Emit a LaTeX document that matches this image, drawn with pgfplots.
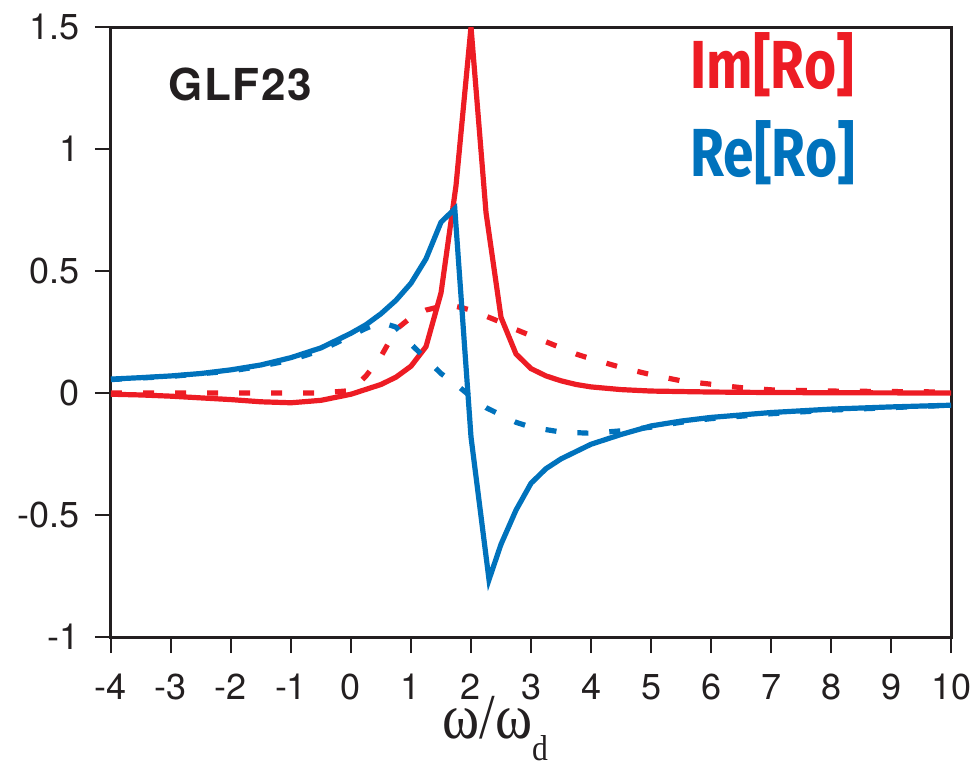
\documentclass[border=0pt]{standalone}
\usepackage{fontspec}
\setmainfont{TeX Gyre Heros}
\newfontfamily\legendfont{Fira Sans}[FakeStretch=0.81]
\newfontfamily\greekfont{Liberation Serif}[FakeStretch=0.88]
\usepackage{pgfplots}
\pgfplotsset{compat=1.18}

\definecolor{imred}{RGB}{237,28,36}
\definecolor{reblue}{RGB}{0,114,188}
\definecolor{ink}{RGB}{35,31,32}

\begin{document}
\begin{tikzpicture}
\useasboundingbox (-55.5pt,-65pt) rectangle (430.5pt,318.5pt);
\begin{axis}[
  at={(0,0)}, anchor=south west,
  scale only axis, width=420pt, height=305pt,
  xmin=-4, xmax=10, ymin=-1, ymax=1.5,
  xtick={-4,-3,...,10}, ytick={-1,-0.5,0,0.5,1,1.5},
  tick pos=left, tick align=outside, major tick length=8pt,
  every tick/.style={ink, line width=0.7pt},
  axis line style={ink, line width=1.5pt},
  /pgf/number format/assume math mode=true,
  ticklabel style={font=\fontsize{18}{18}\selectfont, text=ink},
  xticklabel style={yshift=-7pt},
  yticklabel style={/pgf/number format/fixed, xshift=-4pt},
  every axis plot/.append style={line width=2.6pt, line join=miter, miter limit=6},
  dashed curve/.style={dash pattern=on 5.5pt off 10.5pt},
]
% Im[Ro], solid
\addplot[imred] coordinates {
  (-4,-0.005) (-3.5,-0.008) (-3,-0.013) (-2.5,-0.02) (-2,-0.027) (-1.5,-0.036)
  (-1,-0.04) (-0.5,-0.03) (0,-0.005) (0.25,0.015) (0.5,0.035) (0.75,0.065)
  (1,0.11) (1.25,0.19) (1.5,0.41) (1.75,0.85) (2,1.5) (2.25,0.74) (2.5,0.31)
  (2.75,0.16) (3,0.1) (3.25,0.07) (3.5,0.05) (3.75,0.035) (4,0.025) (4.5,0.014)
  (5,0.008) (6,0.004) (7,0.002) (8,0.001) (10,0.0)
};
% Im[Ro], dashed
\addplot[imred, dashed curve] coordinates {
  (-4,0) (-3,0) (-2,0) (-1,0) (-0.5,0) (0,0.01) (0.25,0.07) (0.5,0.15)
  (0.75,0.26) (1,0.31) (1.25,0.34) (1.5,0.355) (1.75,0.355) (2,0.34)
  (2.25,0.315) (2.5,0.29) (2.75,0.26) (3,0.235) (3.25,0.21) (3.5,0.185)
  (3.75,0.16) (4,0.14) (4.5,0.105) (5,0.075) (5.5,0.05) (6,0.036) (6.5,0.022)
  (7,0.013) (8,0.008) (9,0.006) (10,0.004)
};
% Re[Ro], solid
\addplot[reblue] coordinates {
  (-4,0.057) (-3.5,0.063) (-3,0.07) (-2.5,0.08) (-2,0.095) (-1.5,0.115)
  (-1,0.145) (-0.5,0.185) (0,0.245) (0.25,0.28) (0.5,0.325) (0.75,0.38)
  (1,0.45) (1.25,0.55) (1.5,0.70) (1.73,0.755) (2,-0.18) (2.3,-0.765)
  (2.5,-0.62) (2.75,-0.48) (3,-0.37) (3.25,-0.31) (3.5,-0.27) (3.75,-0.24)
  (4,-0.21) (4.5,-0.17) (5,-0.135) (5.5,-0.115) (6,-0.1) (7,-0.08)
  (8,-0.066) (9,-0.057) (10,-0.05)
};
% Re[Ro], dashed
\addplot[reblue, dashed curve] coordinates {
  (-4,0.055) (-3,0.068) (-2,0.09) (-1.5,0.11) (-1,0.135) (-0.5,0.175)
  (0,0.235) (0.25,0.265) (0.5,0.29) (0.75,0.27) (1,0.2) (1.25,0.14)
  (1.5,0.08) (1.75,0.035) (2,-0.015) (2.25,-0.06) (2.5,-0.09) (2.75,-0.12)
  (3,-0.14) (3.5,-0.16) (4,-0.165) (4.5,-0.155) (5,-0.14) (5.5,-0.12)
  (6,-0.105) (7,-0.085) (8,-0.07) (9,-0.06) (10,-0.05)
};

\node[anchor=center, text=ink, font=\fontsize{22}{22}\selectfont\bfseries\addfontfeature{LetterSpace=4}]
  at (axis cs:-1.85,1.266) {GLF23};
\node[anchor=base west, inner sep=0pt, text=imred, font=\legendfont\fontsize{34}{34}\selectfont\bfseries]
  at (axis cs:5.65,1.25) {Im[Ro]};
\node[anchor=base west, inner sep=0pt, text=reblue, font=\legendfont\fontsize{34}{34}\selectfont\bfseries]
  at (axis cs:5.65,0.889) {Re[Ro]};
\end{axis}
% axis title below the tick labels
\node[anchor=base west, inner sep=0pt, text=ink, font=\greekfont\fontsize{32}{32}\selectfont]
  at (165.5pt,-50.5pt) {ω/ω\raisebox{-11pt}{\fontsize{18}{18}\selectfont d}};
\end{tikzpicture}
\end{document}
